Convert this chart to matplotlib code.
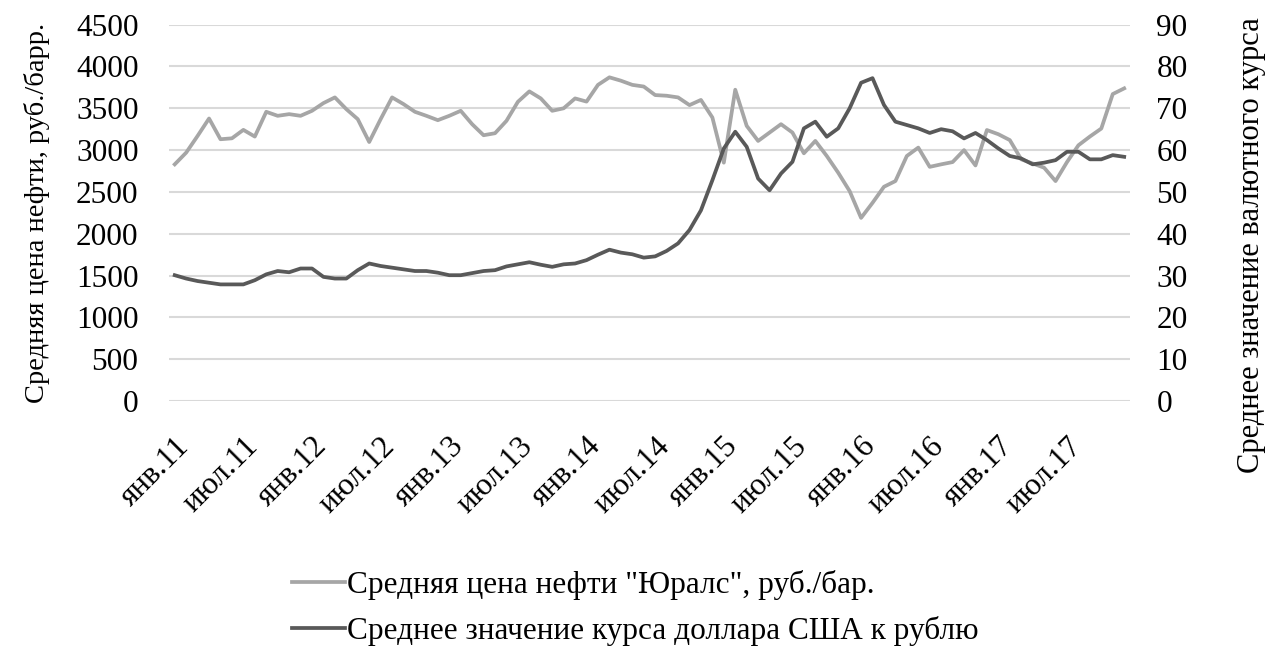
import matplotlib.pyplot as plt
from matplotlib.transforms import ScaledTranslation

# Средние месячные значения, янв.2011 - дек.2017
oil_price = [
    2830, 2970, 3170, 3378, 3130, 3141, 3242, 3162, 3458, 3410, 3430, 3410,
    3470, 3562, 3630, 3490, 3370, 3097, 3370, 3630, 3550, 3458, 3410, 3358,
    3410, 3470, 3310, 3178, 3202, 3350, 3578, 3702, 3618, 3470, 3500, 3618,
    3580, 3780, 3870, 3830, 3780, 3760, 3658, 3650, 3630, 3538, 3600, 3390,
    2850, 3722, 3290, 3110, 3210, 3310, 3210, 2962, 3110, 2930, 2730, 2510,
    2190, 2370, 2562, 2630, 2930, 3030, 2800, 2830, 2857, 3000, 2817, 3240,
    3190, 3120, 2890, 2840, 2790, 2630, 2857, 3058, 3162, 3258, 3670, 3738,
]
usd_rate = [
    30.1, 29.3, 28.7, 28.3, 27.9, 27.9, 27.9, 28.9, 30.3, 31.1, 30.8, 31.7,
    31.7, 29.7, 29.3, 29.3, 31.3, 32.9, 32.3, 31.9, 31.5, 31.1, 31.1, 30.7,
    30.1, 30.1, 30.6, 31.1, 31.3, 32.2, 32.7, 33.2, 32.6, 32.1, 32.7, 32.9,
    33.7, 35.0, 36.2, 35.5, 35.1, 34.3, 34.6, 35.9, 37.7, 40.9, 45.6, 52.8,
    60.4, 64.4, 60.8, 53.2, 50.4, 54.4, 57.2, 65.2, 66.8, 63.2, 65.2, 70.0,
    76.1, 77.2, 70.8, 66.8, 66.0, 65.2, 64.1, 65.0, 64.5, 62.8, 64.1, 62.4,
    60.4, 58.6, 58.0, 56.6, 57.0, 57.6, 59.6, 59.6, 57.8, 57.8, 58.8, 58.4,
]
tick_labels = ['янв.11', 'июл.11', 'янв.12', 'июл.12', 'янв.13', 'июл.13', 'янв.14',
               'июл.14', 'янв.15', 'июл.15', 'янв.16', 'июл.16', 'янв.17', 'июл.17']
label_oil = 'Средняя цена нефти "Юралс", руб./бар.'
label_usd = 'Среднее значение курса доллара США к рублю'

plt.rcParams['font.family'] = ['Liberation Serif', 'DejaVu Serif']
plt.rcParams['font.size'] = 22.5

fig = plt.figure(figsize=(12.66, 6.48), dpi=100)
ax = fig.add_axes([0.1335, 0.381, 0.759, 0.581])
ax2 = ax.twinx()

x = list(range(len(oil_price)))
l1, = ax.plot(x, oil_price, color='#a6a6a6', lw=2.7, label=label_oil, zorder=3)
l2, = ax2.plot(x, usd_rate, color='#595959', lw=2.7, label=label_usd, zorder=3)

ax.set_xlim(-0.5, len(x) - 0.5)
ax.set_ylim(0, 4500)
ax.set_yticks(range(0, 4501, 500))
ax2.set_ylim(0, 90)
ax2.set_yticks(range(0, 91, 10))
ax.yaxis.grid(True, color='#d9d9d9', lw=1.5)
ax.set_axisbelow(True)

ax.set_xticks(range(0, len(x), 6))
ax.set_xticklabels(tick_labels, rotation=45, ha='right', rotation_mode='anchor')
shift = ScaledTranslation(-8 / 100, 0, fig.dpi_scale_trans)
for t in ax.get_xticklabels():
    t.set_transform(t.get_transform() + shift)

for a in (ax, ax2):
    for s in a.spines.values():
        s.set_visible(False)
    a.tick_params(length=0)
ax.tick_params(axis='x', pad=22)
ax.tick_params(axis='y', pad=22)
ax2.tick_params(axis='y', pad=19)

ax.set_ylabel('Средняя цена нефти, руб./барр.', fontsize=20.5)
ax.yaxis.set_label_coords(-0.124, 0.5)
ax2.set_ylabel('Среднее значение валютного курса', fontsize=22)
ax2.yaxis.set_label_coords(1.111, 0.414)

fig.legend(handles=[l1, l2], loc='upper left', bbox_to_anchor=(0.2205, 0.139),
           frameon=False, handlelength=1.72, handletextpad=0.05, labelspacing=0.5,
           borderaxespad=0)

fig.savefig('out.png', dpi=100, facecolor='white')
